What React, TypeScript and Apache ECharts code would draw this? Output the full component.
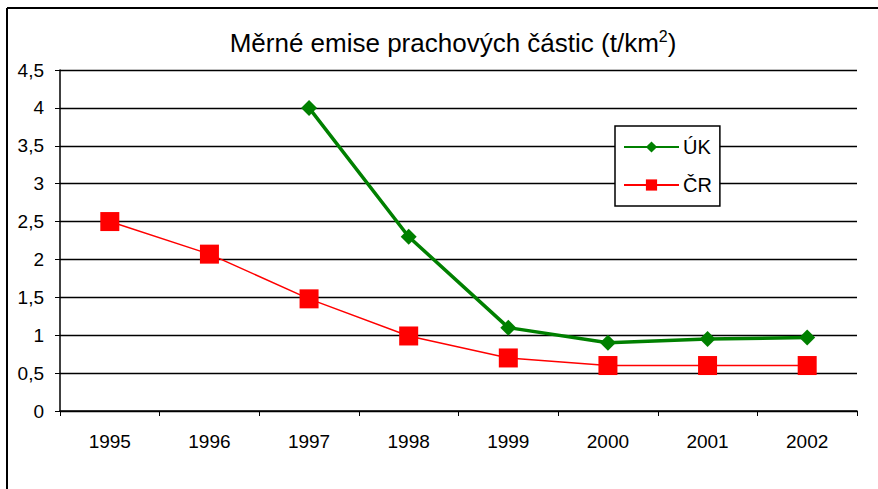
import React, { useEffect, useRef } from "react";
import * as echarts from "echarts";

const years = ["1995", "1996", "1997", "1998", "1999", "2000", "2001", "2002"];
const ukValues = [null, null, 4, 2.3, 1.1, 0.9, 0.95, 0.97];
const crValues = [2.5, 2.07, 1.48, 0.99, 0.7, 0.6, 0.6, 0.6];
const seriesNames = ["ÚK", "ČR"];

const FONT = "Liberation Sans";

export default function App() {
  const ref = useRef<HTMLDivElement>(null);
  useEffect(() => {
    if (!ref.current) return;
    const chart = echarts.init(ref.current, null, { renderer: "svg" });
    chart.setOption({
      animation: false,
      backgroundColor: "#fff",
      textStyle: { fontFamily: FONT },
      title: {
        text: "{a|Měrné emise prachových částic (t/km}{s|2}{a|)}",
        left: 448,
        top: 23,
        textAlign: "center",
        textStyle: {
          fontWeight: "normal",
          rich: {
            a: { fontFamily: FONT, fontSize: 26, fontWeight: "normal", color: "#000", verticalAlign: "bottom" },
            s: { fontFamily: FONT, fontSize: 16, fontWeight: "normal", color: "#000", verticalAlign: "top", padding: [0, 0, 12, 0] },
          },
        },
      },
      legend: {
        orient: "vertical",
        left: 615,
        top: 126,
        padding: [11, 8, 11, 8],
        itemWidth: 55,
        itemHeight: 14,
        itemGap: 18,
        borderColor: "#000",
        borderWidth: 1.5,
        backgroundColor: "#fff",
        textStyle: { fontFamily: FONT, fontSize: 20, color: "#000", padding: [0, 0, 0, -1] },
        data: seriesNames,
      },
      grid: { left: 60, right: 21, top: 70, bottom: 78, containLabel: false },
      xAxis: {
        type: "category",
        data: years,
        boundaryGap: true,
        axisLine: { lineStyle: { color: "#000", width: 1.5 } },
        axisTick: { show: true, alignWithLabel: false, length: 5, lineStyle: { color: "#000" } },
        axisLabel: { color: "#000", fontFamily: FONT, fontSize: 19, margin: 21 },
      },
      yAxis: {
        type: "value",
        min: 0,
        max: 4.5,
        interval: 0.5,
        axisLine: { show: true, lineStyle: { color: "#000", width: 1.5 } },
        axisTick: { show: true, length: 5, lineStyle: { color: "#000" } },
        axisLabel: {
          color: "#000",
          fontFamily: FONT,
          fontSize: 19,
          margin: 16,
          formatter: (v: number) => String(v).replace(".", ","),
        },
        splitLine: { show: true, lineStyle: { color: "#000", width: 1.4 } },
      },
      series: [
        {
          name: seriesNames[0],
          type: "line",
          data: ukValues,
          symbol: "diamond",
          symbolSize: 16,
          color: "#008000",
          lineStyle: { color: "#008000", width: 3.5 },
          itemStyle: { color: "#008000" },
          z: 3,
        },
        {
          name: seriesNames[1],
          type: "line",
          data: crValues,
          symbol: "rect",
          symbolSize: 19,
          color: "#FF0000",
          lineStyle: { color: "#FF0000", width: 1.5 },
          itemStyle: { color: "#FF0000" },
          z: 2,
        },
      ],
      graphic: [
        { type: "line", shape: { x1: 7, y1: 8, x2: 878, y2: 8 }, style: { stroke: "#000", lineWidth: 2 } },
        { type: "line", shape: { x1: 7, y1: 8, x2: 7, y2: 489 }, style: { stroke: "#000", lineWidth: 2 } },
      ],
    });
    return () => chart.dispose();
  }, []);
  return (
    <div
      ref={ref}
      style={{ position: "fixed", left: 0, top: 0, width: 878, height: 489 }}
    />
  );
}
